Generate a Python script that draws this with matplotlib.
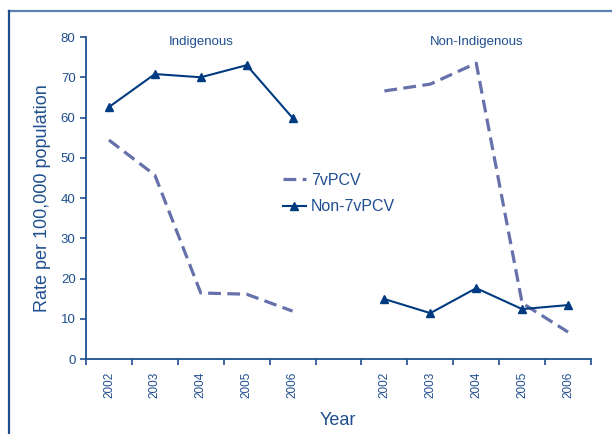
import matplotlib
matplotlib.use("Agg")
import matplotlib.pyplot as plt
from matplotlib.lines import Line2D

plt.rcParams['font.family'] = ['Liberation Sans', 'DejaVu Sans']

years = ["2002", "2003", "2004", "2005", "2006"]
indig_pcv7 = [54.4, 45.7, 16.4, 16.1, 11.9]
indig_non = [62.6, 70.8, 70.0, 73.0, 59.9]
nonindig_pcv7 = [66.6, 68.3, 73.5, 13.9, 6.7]
nonindig_non = [14.9, 11.4, 17.6, 12.4, 13.4]
groups = ["Indigenous", "Non-Indigenous"]

txt = '#1f4f8f'
solid_c = '#003a80'
dash_c = '#6670aa'

fig = plt.figure(figsize=(6.12, 4.34), dpi=100)
ax = fig.add_axes([0.1405, 0.1728, 0.8252, 0.7419])

x1 = list(range(0, 5))
x2 = list(range(6, 11))

ax.plot(x1, indig_pcv7, color=dash_c, lw=2.3, dashes=(4, 2), label="7vPCV")
ax.plot(x1, indig_non, color=solid_c, lw=1.5, marker='^', ms=5.5, label="Non-7vPCV")
ax.plot(x2, nonindig_pcv7, color=dash_c, lw=2.3, dashes=(4, 2))
ax.plot(x2, nonindig_non, color=solid_c, lw=1.5, marker='^', ms=5.5)

ax.set_xlim(-0.5, 10.5)
ax.set_ylim(0, 80)
ax.set_yticks(range(0, 81, 10))
ax.set_xticks(x1 + x2)
ax.set_xticklabels(years + years, rotation=90, fontsize=8.5, color=txt)
ax.set_xticks([i - 0.5 for i in range(12)], minor=True)
ax.tick_params(axis='x', which='major', length=0, pad=9)
ax.tick_params(axis='x', which='minor', length=4, width=1.2, color=txt, direction='out')
ax.tick_params(axis='y', length=4, width=1.2, color=txt, labelsize=9.5, labelcolor=txt)

for s in ['top', 'right']:
    ax.spines[s].set_visible(False)
for s in ['left', 'bottom']:
    ax.spines[s].set_color(txt)
    ax.spines[s].set_linewidth(1.3)

ax.text(2, 78.8, groups[0], ha='center', va='center', fontsize=9.5, color=txt)
ax.text(8, 78.8, groups[1], ha='center', va='center', fontsize=9.5, color=txt)

ax.set_ylabel("Rate per 100,000 population", fontsize=13, color=txt, labelpad=7)
fig.text(0.552, 0.03, "Year", ha='center', va='center', fontsize=13, color=txt)

ax.legend(loc='center left', bbox_to_anchor=(0.362, 0.514), frameon=False,
          fontsize=11.5, labelcolor=txt, handlelength=1.4, handletextpad=0.35,
          labelspacing=0.7)

fig.add_artist(Line2D([0.0147, 1.0], [0.9747, 0.9747], color='#5b82b5', lw=1.6))
fig.add_artist(Line2D([0.0147, 0.0147], [0.0, 0.9747], color='#1f4e8c', lw=1.6))

fig.savefig("out.png", dpi=100)
